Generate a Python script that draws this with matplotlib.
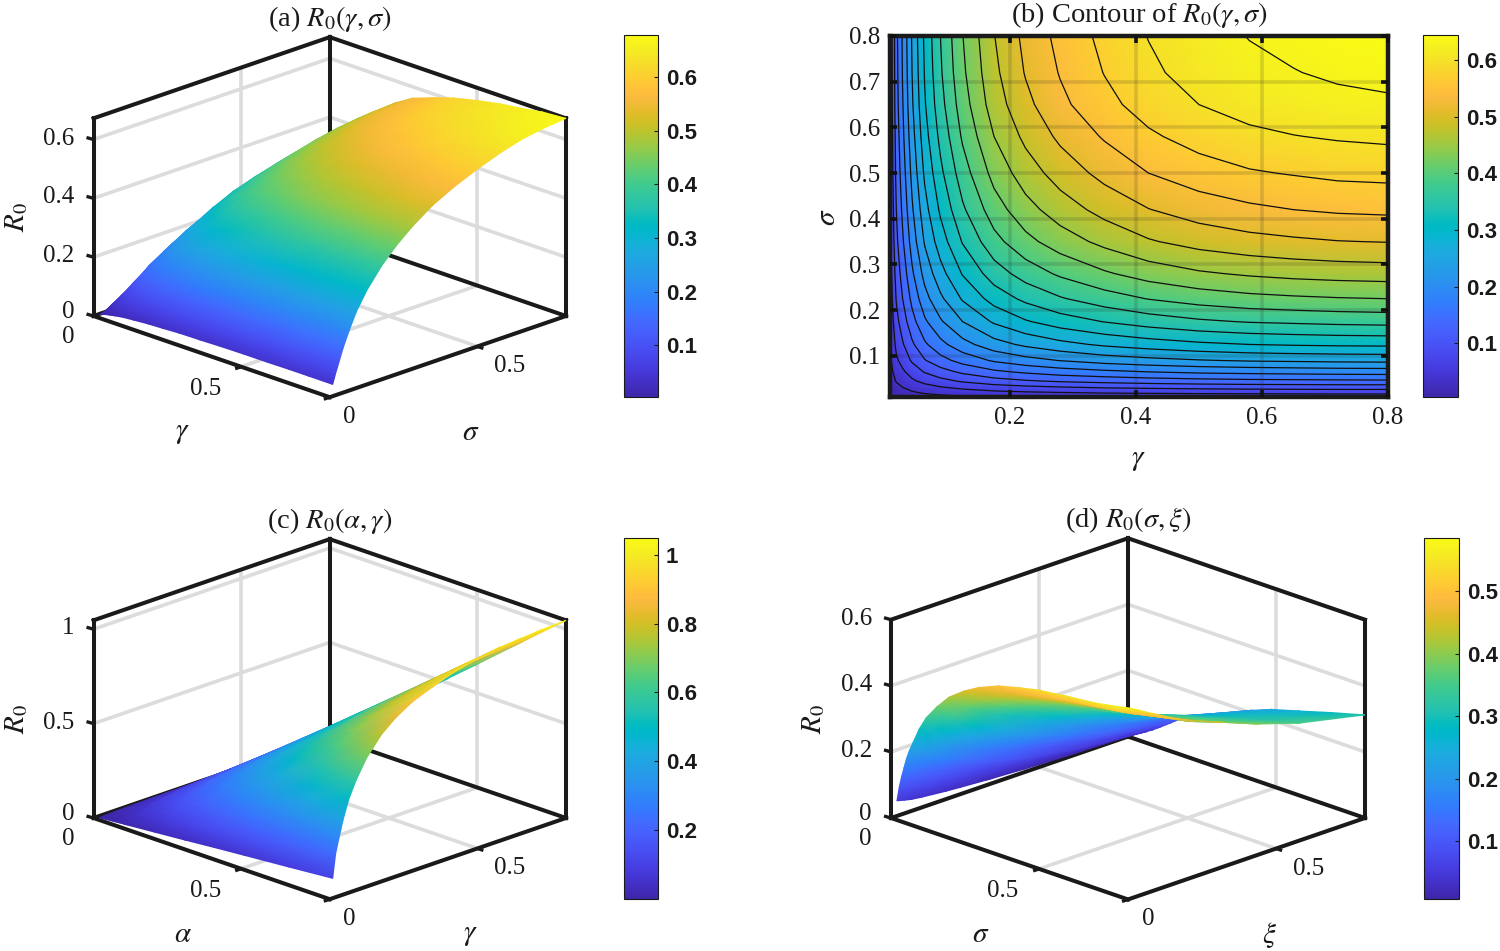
import numpy as np
import matplotlib
matplotlib.use("Agg")
import matplotlib.pyplot as plt
from matplotlib.colors import LinearSegmentedColormap, Normalize
from matplotlib.cm import ScalarMappable
from mpl_toolkits.mplot3d import proj3d

plt.rcParams["font.family"] = ["Liberation Serif", "DejaVu Serif"]
plt.rcParams["mathtext.fontset"] = "stix"

# Parula colour table
parula_rows = [
    [0.2422,0.1504,0.6603],[0.2504,0.1650,0.7076],[0.2578,0.1818,0.7511],[0.2647,0.1978,0.7952],
    [0.2706,0.2147,0.8364],[0.2751,0.2342,0.8710],[0.2783,0.2559,0.8991],[0.2803,0.2782,0.9221],
    [0.2813,0.3006,0.9414],[0.2810,0.3228,0.9579],[0.2795,0.3447,0.9717],[0.2760,0.3667,0.9829],
    [0.2699,0.3892,0.9906],[0.2602,0.4123,0.9952],[0.2440,0.4358,0.9988],[0.2206,0.4603,0.9973],
    [0.1963,0.4847,0.9892],[0.1834,0.5074,0.9798],[0.1786,0.5289,0.9682],[0.1764,0.5499,0.9520],
    [0.1687,0.5703,0.9359],[0.1540,0.5902,0.9218],[0.1460,0.6091,0.9079],[0.1380,0.6276,0.8973],
    [0.1248,0.6459,0.8883],[0.1113,0.6635,0.8763],[0.0952,0.6798,0.8598],[0.0689,0.6948,0.8394],
    [0.0297,0.7082,0.8163],[0.0036,0.7203,0.7917],[0.0067,0.7312,0.7660],[0.0433,0.7411,0.7394],
    [0.0964,0.7500,0.7120],[0.1408,0.7584,0.6842],[0.1717,0.7670,0.6554],[0.1938,0.7758,0.6251],
    [0.2161,0.7843,0.5923],[0.2470,0.7918,0.5567],[0.2906,0.7973,0.5188],[0.3406,0.8008,0.4789],
    [0.3909,0.8029,0.4354],[0.4456,0.8024,0.3909],[0.5044,0.7993,0.3480],[0.5616,0.7942,0.3045],
    [0.6174,0.7876,0.2612],[0.6720,0.7793,0.2227],[0.7242,0.7698,0.1910],[0.7738,0.7598,0.1646],
    [0.8203,0.7498,0.1535],[0.8634,0.7406,0.1596],[0.9035,0.7330,0.1774],[0.9393,0.7288,0.2100],
    [0.9728,0.7298,0.2394],[0.9956,0.7434,0.2371],[0.9970,0.7659,0.2199],[0.9952,0.7893,0.2028],
    [0.9892,0.8136,0.1885],[0.9786,0.8386,0.1766],[0.9676,0.8639,0.1643],[0.9610,0.8890,0.1537],
    [0.9597,0.9135,0.1423],[0.9628,0.9373,0.1265],[0.9691,0.9606,0.1064],[0.9769,0.9839,0.0805],
]
parula = LinearSegmentedColormap.from_list("parula", parula_rows, N=256)

# Shared parameter grid for the gamma and sigma axes
grid_fine = [0.01, 0.02, 0.03, 0.045, 0.065, 0.09, 0.125, 0.175, 0.225, 0.28,
             0.35, 0.42, 0.5, 0.58, 0.65, 0.72, 0.8]

# Panel (a): rows gamma, columns sigma
r0_a = [
    [.004,.007,.010,.015,.020,.026,.032,.039,.044,.048,.053,.057,.060,.063,.065,.066,.067],
    [.009,.016,.023,.033,.044,.057,.070,.085,.096,.107,.117,.125,.133,.139,.144,.146,.148],
    [.012,.021,.030,.043,.058,.074,.091,.110,.125,.138,.152,.163,.172,.180,.186,.190,.192],
    [.015,.028,.039,.057,.076,.097,.120,.145,.165,.182,.201,.214,.227,.238,.245,.250,.253],
    [.019,.035,.049,.072,.096,.123,.152,.183,.208,.230,.253,.270,.286,.300,.309,.315,.319],
    [.023,.041,.058,.084,.113,.144,.178,.215,.244,.270,.297,.318,.337,.353,.364,.371,.375],
    [.026,.048,.068,.098,.131,.168,.208,.250,.284,.315,.347,.370,.392,.411,.424,.432,.437],
    [.030,.055,.077,.112,.150,.192,.237,.286,.325,.359,.388,.415,.439,.460,.474,.483,.489],
    [.032,.060,.084,.122,.162,.208,.257,.310,.352,.390,.418,.447,.474,.496,.512,.522,.527],
    [.035,.063,.089,.129,.173,.221,.273,.329,.374,.414,.445,.475,.503,.527,.544,.554,.561],
    [.036,.066,.093,.135,.181,.232,.286,.345,.392,.433,.465,.497,.527,.552,.569,.580,.587],
    [.038,.069,.097,.141,.188,.241,.297,.359,.408,.451,.484,.517,.548,.573,.592,.603,.610],
    [.039,.071,.100,.145,.194,.248,.306,.370,.420,.464,.498,.532,.565,.591,.610,.621,.629],
    [.039,.072,.102,.148,.197,.253,.313,.377,.428,.474,.512,.546,.579,.607,.625,.637,.645],
    [.040,.073,.103,.149,.199,.256,.315,.380,.432,.478,.519,.554,.587,.615,.634,.646,.654],
    [.040,.074,.104,.151,.201,.258,.318,.383,.436,.482,.528,.564,.598,.626,.646,.658,.666],
    [.040,.074,.104,.151,.202,.259,.319,.385,.437,.484,.533,.569,.603,.632,.652,.664,.672],
]

# Panel (b): rows gamma, columns sigma
r0_b = [
    [.004,.007,.010,.015,.019,.025,.031,.037,.042,.046,.051,.055,.058,.061,.063,.064,.0645],
    [.009,.016,.022,.032,.043,.055,.067,.081,.092,.102,.113,.120,.128,.133,.138,.140,.142],
    [.011,.020,.029,.041,.055,.071,.087,.105,.120,.132,.146,.156,.165,.173,.178,.182,.184],
    [.015,.027,.038,.055,.073,.094,.115,.139,.158,.175,.193,.206,.218,.228,.236,.240,.243],
    [.018,.034,.047,.069,.092,.118,.145,.175,.199,.220,.243,.259,.275,.288,.297,.302,.306],
    [.022,.040,.056,.081,.108,.139,.171,.206,.234,.259,.285,.305,.323,.338,.349,.356,.360],
    [.025,.046,.065,.094,.126,.161,.199,.240,.273,.302,.332,.355,.376,.394,.406,.414,.419],
    [.029,.053,.074,.108,.144,.184,.228,.274,.312,.345,.380,.406,.430,.450,.465,.473,.479],
    [.031,.057,.080,.117,.155,.199,.246,.297,.337,.373,.411,.439,.465,.487,.502,.512,.518],
    [.033,.060,.085,.124,.165,.211,.261,.315,.357,.395,.435,.465,.493,.516,.533,.542,.549],
    [.035,.064,.090,.130,.173,.223,.275,.331,.376,.416,.458,.490,.519,.543,.561,.571,.578],
    [.036,.066,.093,.135,.180,.231,.285,.344,.391,.433,.477,.509,.540,.565,.583,.594,.601],
    [.037,.068,.096,.139,.186,.238,.294,.355,.403,.446,.491,.524,.556,.582,.600,.612,.619],
    [.038,.069,.098,.142,.189,.243,.300,.362,.411,.454,.500,.534,.567,.593,.612,.623,.631],
    [.038,.070,.099,.143,.191,.245,.303,.365,.415,.459,.505,.540,.572,.599,.618,.629,.637],
    [.039,.071,.100,.144,.193,.247,.305,.368,.418,.462,.509,.544,.577,.603,.623,.634,.642],
    [.039,.071,.100,.145,.194,.248,.306,.370,.420,.464,.511,.546,.579,.606,.626,.637,.645],
]
contour_levels = [.03, .06, .09, .12, .15, .18, .21, .24, .27, .30, .33,
                  .36, .39, .42, .45, .48, .51, .54, .57, .60, .63]

# Panel (c): rows alpha, columns gamma
alpha_grid = [0.01, 0.1, 0.2, 0.3, 0.4, 0.5, 0.65, 0.8]
r0_c = [
    [.001,.003,.004,.005,.006,.007,.009,.010,.011,.011,.012,.012,.013,.013,.013,.013,.013],
    [.013,.029,.037,.049,.062,.073,.085,.097,.105,.112,.117,.122,.126,.128,.129,.130,.131],
    [.026,.058,.075,.099,.124,.146,.170,.195,.211,.224,.235,.244,.251,.256,.259,.261,.262],
    [.039,.086,.112,.148,.186,.219,.255,.292,.316,.336,.352,.366,.377,.384,.388,.391,.393],
    [.053,.115,.149,.198,.249,.292,.341,.389,.422,.448,.469,.488,.503,.513,.517,.521,.524],
    [.066,.144,.186,.247,.311,.365,.426,.486,.527,.559,.586,.610,.628,.641,.646,.651,.654],
    [.085,.187,.242,.321,.404,.475,.553,.632,.685,.727,.762,.793,.817,.833,.840,.847,.851],
    [.105,.230,.298,.395,.497,.584,.681,.778,.843,.895,.938,.976,1.005,1.025,1.034,1.042,1.047],
]

# Panel (d): rows sigma, columns xi
sigma_grid_d = [0.01, 0.018, 0.026, 0.034, 0.042, 0.052, 0.064, 0.085, 0.109, 0.145,
                0.186, 0.235, 0.286, 0.352, 0.42, 0.486, 0.58, 0.686, 0.8]
xi_grid_d = [0.01, 0.035, 0.06, 0.095, 0.13, 0.175, 0.22, 0.32, 0.44, 0.58, 0.8]
r0_d = [
    [.052,.046,.041,.037,.034,.030,.027,.021,.0155,.011,.007],
    [.097,.086,.076,.068,.061,.054,.047,.035,.026,.018,.012],
    [.131,.116,.103,.092,.083,.074,.065,.048,.036,.026,.017],
    [.160,.142,.126,.114,.103,.092,.081,.062,.047,.034,.022],
    [.189,.168,.149,.134,.121,.109,.096,.074,.056,.040,.026],
    [.217,.192,.170,.154,.139,.125,.110,.084,.064,.046,.030],
    [.244,.217,.192,.174,.157,.140,.124,.094,.072,.052,.035],
    [.292,.270,.248,.230,.213,.195,.176,.139,.107,.078,.047],
    [.334,.309,.285,.265,.246,.227,.205,.164,.129,.096,.062],
    [.378,.352,.326,.305,.284,.264,.241,.197,.158,.124,.086],
    [.420,.400,.380,.362,.343,.321,.300,.251,.208,.162,.1135],
    [.453,.433,.412,.393,.374,.352,.330,.281,.237,.188,.1345],
    [.480,.460,.440,.421,.402,.379,.357,.306,.262,.210,.156],
    [.505,.485,.465,.446,.428,.406,.385,.336,.288,.236,.182],
    [.521,.501,.481,.463,.445,.423,.402,.353,.307,.258,.209],
    [.534,.514,.495,.477,.458,.437,.416,.368,.326,.280,.232],
    [.545,.526,.508,.490,.473,.453,.433,.387,.347,.304,.256],
    [.555,.537,.520,.503,.487,.468,.449,.405,.367,.327,.284],
    [.575,.5625,.549,.531,.513,.491,.472,.4375,.395,.355,.312],
]

# Axis limits, tick values, labels
axis_max = 0.8
floor_ticks = [0.5]
ztop = {"a": 0.672, "c": 1.047, "d": 0.6}
zticks = {"a": [0.2, 0.4, 0.6], "c": [0.5, 1.0], "d": [0.2, 0.4, 0.6]}
zticklabels = {"a": ["0.2", "0.4", "0.6"], "c": ["0.5", "1"], "d": ["0.2", "0.4", "0.6"]}
titles = {"a": r"(a) $R_0(\gamma,\sigma)$", "b": r"(b) Contour of $R_0(\gamma,\sigma)$",
          "c": r"(c) $R_0(\alpha,\gamma)$", "d": r"(d) $R_0(\sigma,\xi)$"}
xlabels = {"a": r"$\gamma$", "c": r"$\alpha$", "d": r"$\sigma$"}
ylabels = {"a": r"$\sigma$", "c": r"$\gamma$", "d": r"$\xi$"}
cbar_range = {"a": (0.004, 0.678), "b": (0.0045, 0.645), "c": (0.001, 1.048), "d": (0.008, 0.585)}
cbar_ticks = {"a": [0.1, 0.2, 0.3, 0.4, 0.5, 0.6], "b": [0.1, 0.2, 0.3, 0.4, 0.5, 0.6],
              "c": [0.2, 0.4, 0.6, 0.8, 1.0], "d": [0.1, 0.2, 0.3, 0.4, 0.5]}
cbar_labels = {"a": ["0.1", "0.2", "0.3", "0.4", "0.5", "0.6"], "b": ["0.1", "0.2", "0.3", "0.4", "0.5", "0.6"],
               "c": ["0.2", "0.4", "0.6", "0.8", "1"], "d": ["0.1", "0.2", "0.3", "0.4", "0.5"]}

# Layout in pixels measured from the top-left of the figure
W_PX, H_PX = 1500, 951
BOX_PX = {"a": (93.5, 566.0, 316.0), "c": (93.5, 566.0, 818.0), "d": (891.0, 1365.0, 818.0)}
CBAR_PX = {"a": (624, 658, 35, 397), "b": (1423, 1458, 35, 397),
           "c": (624, 658, 538, 899), "d": (1424, 1459, 538, 899)}

INK = "#1a1a1a"
GRID = "#dcdcdc"
TICK_FS = 18
TITLE_FS = 20.5
LABEL_FS = 21

fig = plt.figure(figsize=(W_PX / 100, H_PX / 100), dpi=100, facecolor="white")

# Full-figure pixel layer holding text and the shaded surfaces
overlay = fig.add_axes([0, 0, 1, 1], zorder=10)
overlay.set_xlim(0, W_PX)
overlay.set_ylim(H_PX, 0)
overlay.autoscale(False)
overlay.axis("off")


def to_pixels(ax, x, y, z):
    xs, ys, _ = proj3d.proj_transform(np.ravel(x), np.ravel(y), np.ravel(z), ax.get_proj())
    disp = ax.transData.transform(np.column_stack([xs, ys]))
    return disp[:, 0].reshape(np.shape(x)), (H_PX - disp[:, 1]).reshape(np.shape(x))


def set_square(ax, left, bottom, size):
    ax.set_position([left / W_PX, bottom / H_PX, size / W_PX, size / H_PX])
    ax.apply_aspect()


def panel_3d(key, table, x_grid, y_grid, span_x=axis_max, span_y=axis_max):
    left_px, right_px, base_px = BOX_PX[key]
    zmax = ztop[key]
    ax = fig.add_axes([0, 0, 0.1, 0.1], projection="3d", proj_type="ortho", computed_zorder=False)
    ax.view_init(elev=20.1, azim=-45)
    ax.set_box_aspect((1, 1, 0.63))
    ax.set_xlim(0, span_x)
    ax.set_ylim(0, span_y)
    ax.set_zlim(0, zmax)
    ax.set_axis_off()
    ax.patch.set_alpha(0)

    # Fit the box to its pixel span, then shift it onto the left corner
    size = 500.0
    set_square(ax, 100, 100, size)
    px, _ = to_pixels(ax, np.array([0.0, span_x]), np.array([0.0, span_y]), np.array([0.0, 0.0]))
    size *= (right_px - left_px) / (px[1] - px[0])
    set_square(ax, 100, 100, size)
    px, py = to_pixels(ax, np.array([0.0]), np.array([0.0]), np.array([0.0]))
    set_square(ax, 100 + left_px - px[0], 100 - (base_px - py[0]), size)

    def line3(xs, ys, zs, color=INK, lw=2.9, zo=2):
        ax.plot(xs, ys, zs, color=color, lw=lw, zorder=zo, clip_on=False, solid_capstyle="projecting")

    # Light grid on the two back walls and the floor
    for t in floor_ticks:
        line3([t, t], [span_y, span_y], [0, zmax], GRID, 2.6, 1)
        line3([0, 0], [t, t], [0, zmax], GRID, 2.6, 1)
        line3([t, t], [0, span_y], [0, 0], GRID, 2.6, 1)
        line3([0, span_x], [t, t], [0, 0], GRID, 2.6, 1)
    for z in zticks[key]:
        line3([0, 0], [0, span_y], [z, z], GRID, 2.6, 1)
        line3([0, span_x], [span_y, span_y], [z, z], GRID, 2.6, 1)

    # Box edges
    line3([0, 0], [0, span_y], [zmax, zmax])
    line3([0, span_x], [span_y, span_y], [zmax, zmax])
    line3([0, 0], [0, 0], [0, zmax])
    line3([0, 0], [span_y, span_y], [0, zmax])
    line3([span_x, span_x], [span_y, span_y], [0, zmax])
    line3([0, span_x], [0, 0], [0, 0])
    line3([span_x, span_x], [0, span_y], [0, 0])
    line3([0, 0], [0, span_y], [0, 0])
    line3([0, span_x], [span_y, span_y], [0, 0])

    # Surface with smooth vertex shading, painted from the far corner to the near corner
    X, Y = np.meshgrid(x_grid, y_grid, indexing="ij")
    Z = np.array(table, dtype=float)
    mx, my = to_pixels(ax, X, Y, Z)
    lo, hi = cbar_range[key]
    overlay.pcolormesh(mx[:, ::-1], my[:, ::-1], Z[:, ::-1], shading="gouraud",
                       cmap=parula, norm=Normalize(lo, hi), zorder=2)

    # Ticks and tick labels
    def tick(px_x, px_y, dx, dy):
        overlay.plot([px_x, px_x + dx], [px_y, px_y + dy], color=INK, lw=2.4, zorder=3,
                     solid_capstyle="butt")

    def pix(x, y, z):
        a, b = to_pixels(ax, np.array([x]), np.array([y]), np.array([z]))
        return a[0], b[0]

    for z, s in zip([0.0] + zticks[key], ["0"] + zticklabels[key]):
        a, b = pix(0, 0, z)
        tick(a, b, -7, -2)
        overlay.text(a - 19, b - (4 if z == 0 else 1), s, ha="right", va="center", fontsize=TICK_FS, color=INK)
    a, b = pix(0, 0, 0)
    overlay.text(a - 19, b + 21, "0", ha="right", va="center", fontsize=TICK_FS, color=INK)
    a, b = pix(span_x, 0, 0)
    tick(a, b, -6, 2)
    overlay.text(a + 20, b + 20, "0", ha="center", va="center", fontsize=TICK_FS, color=INK)
    for t in floor_ticks:
        a, b = pix(t, 0, 0)
        tick(a, b, -6, 2)
        overlay.text(a - 36, b + 22, f"{t:g}", ha="center", va="center", fontsize=TICK_FS, color=INK)
        a, b = pix(span_x, t, 0)
        tick(a, b, 6, 2)
        overlay.text(a + 32, b + 20, f"{t:g}", ha="center", va="center", fontsize=TICK_FS, color=INK)

    # Axis names and title
    a, b = pix(span_x / 2, 0, 0)
    overlay.text(a - 29, b + 76, xlabels[key], ha="center", va="center", fontsize=LABEL_FS, color=INK)
    a, b = pix(span_x, span_y / 2, 0)
    overlay.text(a + 23, b + 76, ylabels[key], ha="center", va="center", fontsize=LABEL_FS, color=INK)
    overlay.text(left_px - 77, base_px - 99, r"$R_0$", rotation=90, ha="center", va="center",
                 fontsize=LABEL_FS, color=INK)
    a, b = pix(0, span_y, zmax)
    overlay.text(a, b - 18, titles[key], ha="center", va="center", fontsize=TITLE_FS, color=INK)
    return ax


def add_colorbar(key):
    x0, x1, y0, y1 = CBAR_PX[key]
    cax = fig.add_axes([x0 / W_PX, 1 - y1 / H_PX, (x1 - x0) / W_PX, (y1 - y0) / H_PX])
    lo, hi = cbar_range[key]
    cb = fig.colorbar(ScalarMappable(Normalize(lo, hi), parula), cax=cax)
    cb.set_ticks(cbar_ticks[key], labels=cbar_labels[key])
    cb.ax.tick_params(direction="in", length=3, width=0.8, pad=5.5, color=INK)
    for lab in cb.ax.get_yticklabels():
        lab.set_family("Liberation Sans")
        lab.set_fontweight("bold")
        lab.set_fontsize(16)
        lab.set_color(INK)
    cb.outline.set_linewidth(0.8)
    cb.outline.set_edgecolor(INK)


# Panels with a 3D box
panel_3d("a", r0_a, grid_fine, grid_fine)
panel_3d("c", r0_c, alpha_grid, grid_fine)
panel_3d("d", r0_d, sigma_grid_d, xi_grid_d)

# Panel (b): filled map with contour lines
x0, x1, y0, y1 = 890, 1388, 36, 397
ax_b = fig.add_axes([x0 / W_PX, 1 - y1 / H_PX, (x1 - x0) / W_PX, (y1 - y0) / H_PX])
b_lo, b_hi = cbar_range["b"]
Zb = np.array(r0_b).T
ax_b.pcolormesh(grid_fine, grid_fine, Zb, shading="gouraud", cmap=parula, norm=Normalize(b_lo, b_hi), zorder=1)
ax_b.contour(grid_fine, grid_fine, Zb, levels=contour_levels, colors="#101010", linewidths=0.9, zorder=2)
ax_b.set_xlim(0.01, 0.8)
ax_b.set_ylim(0.01, 0.8)
ax_b.set_xticks([0.2, 0.4, 0.6, 0.8], labels=["0.2", "0.4", "0.6", "0.8"])
ax_b.set_yticks([0.1, 0.2, 0.3, 0.4, 0.5, 0.6, 0.7, 0.8],
                labels=["0.1", "0.2", "0.3", "0.4", "0.5", "0.6", "0.7", "0.8"])
ax_b.grid(True, color="#262626", alpha=0.16, lw=2.6, zorder=3)
ax_b.set_axisbelow(False)
ax_b.tick_params(direction="in", top=True, right=True, length=5, width=2.6, color="#101010",
                 labelsize=TICK_FS, labelcolor=INK, pad=7)
for spine in ax_b.spines.values():
    spine.set_linewidth(3.2)
    spine.set_color("#1a1a1a")
overlay.text(1138, 460, r"$\gamma$", ha="center", va="center", fontsize=LABEL_FS, color=INK)
overlay.text(828, 217, r"$\sigma$", rotation=90, ha="center", va="center", fontsize=LABEL_FS, color=INK)
overlay.text(1140, 15, titles["b"], ha="center", va="center", fontsize=TITLE_FS, color=INK)

for key in "abcd":
    add_colorbar(key)

fig.savefig("out.png", dpi=100)
